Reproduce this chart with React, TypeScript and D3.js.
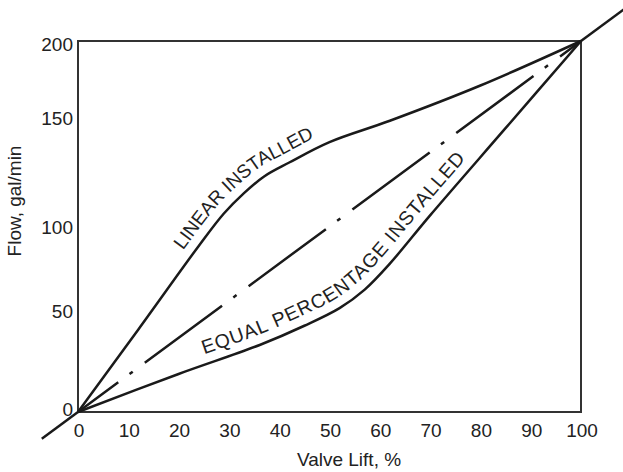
import React, { useLayoutEffect, useRef, useState } from 'react'
import * as d3 from 'd3'

// valve lift (%) vs flow (gal/min)
const xTicks = [0, 10, 20, 30, 40, 50, 60, 70, 80, 90, 100]
const yTicks = [0, 50, 100, 150, 200]

const linearInstalled: [number, number][] = [
  [0, 0], [12, 44.5], [24, 89.5], [29, 107], [33, 118], [37, 127], [42, 134.5],
  [50, 145.5], [62, 157], [80, 176], [100, 200],
]

const equalPercentInstalled: [number, number][] = [
  [0, 0], [20, 20.5], [36, 36], [45, 46.5], [52, 56], [57, 66], [62, 80],
  [70, 106], [85, 153], [100, 200],
]

// straight reference line, and the solid bits that run past the box
const diagonal: [number, number][] = [[0, 0], [100, 200]]
const diagonalLow: [number, number][] = [[-7.2, -14.4], [0, 0]]
const diagonalHigh: [number, number][] = [[100, 200], [112, 224]]

const upperWords = ['LINEAR', 'INSTALLED']
const lowerWords = ['EQUAL', 'PERCENTAGE', 'INSTALLED']

const W = 623
const H = 472
const font = '"Liberation Sans", Arial, Helvetica, sans-serif'

// start offsets of each word along a text path
function wordOffsets(words: string[], size: number, spacing: number) {
  const ctx = document.createElement('canvas').getContext('2d')
  const offs: number[] = []
  let acc = 0
  words.forEach(w => {
    offs.push(acc)
    const s = w + ' '
    const width = ctx ? (ctx.font = `${size}px ${font}`, ctx.measureText(s).width) : s.length * size * 0.6
    acc += width + spacing * s.length
  })
  return offs
}

export default function App() {
  const m = { top: 41, right: 42, bottom: 60, left: 78 }
  const iw = W - m.left - m.right
  const ih = H - m.top - m.bottom

  const x = d3.scaleLinear().domain([0, 100]).range([m.left, m.left + iw])
  const y = d3.scaleLinear().domain([0, 200]).range([m.top + ih, m.top])
  // the printed y labels are not evenly spaced
  const yLab = d3.scaleLinear()
    .domain(yTicks)
    .range([0.008, 0.27, 0.499, 0.7925, 0.99].map(f => m.top + ih - f * ih))

  const line = d3.line<[number, number]>().x(d => x(d[0])).y(d => y(d[1]))
  const curve = d3.line<[number, number]>()
    .x(d => x(d[0])).y(d => y(d[1]))
    .curve(d3.curveCatmullRom.alpha(0.5))

  const upperRef = useRef<SVGPathElement>(null)
  const lowerRef = useRef<SVGPathElement>(null)
  const [labels, setLabels] = useState({ upper: '', lower: '' })

  const upperSize = 19, upperSp = 0
  const lowerSize = 19.5, lowerSp = 0.8
  const upperOffs = wordOffsets(upperWords, upperSize, upperSp)
  const lowerOffs = wordOffsets(lowerWords, lowerSize, lowerSp)

  useLayoutEffect(() => {
    // build a path parallel to a curve, for the text to sit on
    const offsetPath = (el: SVGPathElement | null, startX: number, off: number) => {
      if (!el) return ''
      const L = el.getTotalLength()
      const n = 400
      const pts = d3.range(n + 1).map(i => el.getPointAtLength((L * i) / n))
      const out: [number, number][] = []
      for (let i = 0; i <= n; i++) {
        const a = pts[Math.max(0, i - 1)]
        const b = pts[Math.min(n, i + 1)]
        const tx = b.x - a.x
        const ty = b.y - a.y
        const len = Math.hypot(tx, ty) || 1
        const p = pts[i]
        if (p.x < startX) continue
        out.push([p.x + (off * ty) / len, p.y - (off * tx) / len])
      }
      return d3.line()(out) ?? ''
    }
    setLabels({
      upper: offsetPath(upperRef.current, x(22.3), 10),
      lower: offsetPath(lowerRef.current, x(25.5), 10),
    })
  }, [])

  const ink = '#1a1a1a'

  return (
    <svg width={W} height={H} style={{ position: 'absolute', left: 0, top: 0, background: '#fff' }}
      fontFamily={font}>
      <rect x={m.left} y={m.top} width={iw} height={ih} fill="none" stroke="#333" strokeWidth={2} />

      {/* tick labels */}
      {xTicks.map(t => (
        <text key={'x' + t} x={x(t) + 1} y={437} textAnchor="middle" fontSize={19} fill="#222">{t}</text>
      ))}
      {yTicks.map(t => (
        <text key={'y' + t} x={m.left - 5} y={yLab(t)} dy="0.35em" textAnchor="end" fontSize={19} fill="#222">{t}</text>
      ))}

      <text x={349} y={466} textAnchor="middle" fontSize={19} fill="#222">Valve Lift, %</text>
      <text transform="translate(21,201) rotate(-90)" textAnchor="middle" fontSize={19} fill="#222">Flow, gal/min</text>

      {/* lines */}
      <path d={line(diagonal) ?? ''} fill="none" stroke={ink} strokeWidth={2.5}
        strokeDasharray="96 14 4 15" strokeDashoffset={46} />
      <path d={line(diagonalLow) ?? ''} fill="none" stroke={ink} strokeWidth={2.5} />
      <path d={line(diagonalHigh) ?? ''} fill="none" stroke={ink} strokeWidth={2.5} />
      <path ref={upperRef} d={curve(linearInstalled) ?? ''} fill="none" stroke={ink} strokeWidth={2.5} />
      <path ref={lowerRef} d={curve(equalPercentInstalled) ?? ''} fill="none" stroke={ink} strokeWidth={2.5} />

      {/* curve names, following the curves */}
      <path id="upperLabel" d={labels.upper} fill="none" />
      <path id="lowerLabel" d={labels.lower} fill="none" />
      {upperWords.map((w, i) => (
        <text key={'u' + i} fontSize={upperSize} letterSpacing={upperSp} fill="#222">
          <textPath href="#upperLabel" startOffset={upperOffs[i]}>{w}</textPath>
        </text>
      ))}
      {lowerWords.map((w, i) => (
        <text key={'l' + i} fontSize={lowerSize} letterSpacing={lowerSp} fill="#222">
          <textPath href="#lowerLabel" startOffset={lowerOffs[i]}>{w}</textPath>
        </text>
      ))}
    </svg>
  )
}
